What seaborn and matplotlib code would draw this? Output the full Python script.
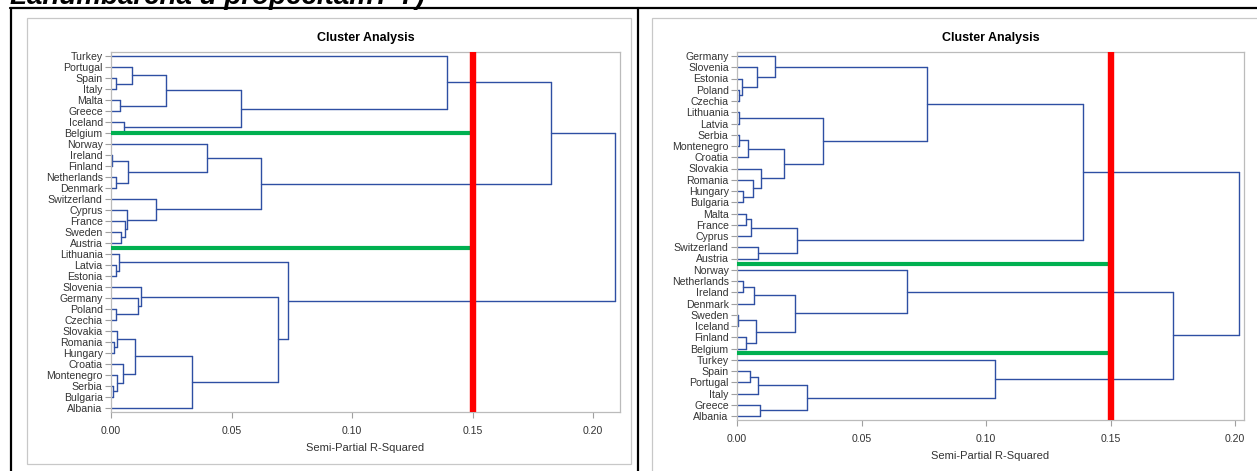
import numpy as np
import pandas as pd
import seaborn as sns
import matplotlib.pyplot as plt
from matplotlib.patches import Rectangle
from matplotlib.lines import Line2D

# leaf order (top to bottom) and merges: (member of cluster A, member of cluster B, semi-partial R2)
left_leaves = ["Turkey", "Portugal", "Spain", "Italy", "Malta", "Greece", "Iceland", "Belgium",
               "Norway", "Ireland", "Finland", "Netherlands", "Denmark", "Switzerland", "Cyprus",
               "France", "Sweden", "Austria", "Lithuania", "Latvia", "Estonia", "Slovenia",
               "Germany", "Poland", "Czechia", "Slovakia", "Romania", "Hungary", "Croatia",
               "Montenegro", "Serbia", "Bulgaria", "Albania"]
left_merges = [("Spain", "Italy", 0.0020), ("Portugal", "Spain", 0.0089),
               ("Malta", "Greece", 0.0037), ("Portugal", "Malta", 0.0230),
               ("Iceland", "Belgium", 0.0054), ("Portugal", "Iceland", 0.0540),
               ("Turkey", "Portugal", 0.1396),
               ("Ireland", "Finland", 0.0003), ("Netherlands", "Denmark", 0.0022),
               ("Ireland", "Netherlands", 0.0072), ("Norway", "Ireland", 0.0397),
               ("Sweden", "Austria", 0.0042), ("France", "Sweden", 0.0060),
               ("Cyprus", "France", 0.0068), ("Switzerland", "Cyprus", 0.0185),
               ("Norway", "Switzerland", 0.0621), ("Turkey", "Norway", 0.1826),
               ("Latvia", "Estonia", 0.0019), ("Lithuania", "Latvia", 0.0035),
               ("Poland", "Czechia", 0.0019), ("Germany", "Poland", 0.0112),
               ("Slovenia", "Germany", 0.0124), ("Romania", "Hungary", 0.0014),
               ("Slovakia", "Romania", 0.0025), ("Serbia", "Bulgaria", 0.0010),
               ("Montenegro", "Serbia", 0.0025), ("Croatia", "Montenegro", 0.0048),
               ("Slovakia", "Croatia", 0.0101), ("Slovakia", "Albania", 0.0335),
               ("Slovenia", "Slovakia", 0.0691), ("Lithuania", "Slovenia", 0.0736),
               ("Turkey", "Lithuania", 0.2093)]
left_cuts = [7.0, 17.5]

right_leaves = ["Germany", "Slovenia", "Estonia", "Poland", "Czechia", "Lithuania", "Latvia",
                "Serbia", "Montenegro", "Croatia", "Slovakia", "Romania", "Hungary", "Bulgaria",
                "Malta", "France", "Cyprus", "Switzerland", "Austria", "Norway", "Netherlands",
                "Ireland", "Denmark", "Sweden", "Iceland", "Finland", "Belgium", "Turkey",
                "Spain", "Portugal", "Italy", "Greece", "Albania"]
right_merges = [("Poland", "Czechia", 0.0009), ("Estonia", "Poland", 0.0020),
                ("Slovenia", "Estonia", 0.0082), ("Germany", "Slovenia", 0.0154),
                ("Lithuania", "Latvia", 0.0007), ("Serbia", "Montenegro", 0.0009),
                ("Serbia", "Croatia", 0.0044), ("Hungary", "Bulgaria", 0.0025),
                ("Romania", "Hungary", 0.0064), ("Slovakia", "Romania", 0.0098),
                ("Serbia", "Slovakia", 0.0189), ("Lithuania", "Serbia", 0.0344),
                ("Germany", "Lithuania", 0.0763),
                ("Malta", "France", 0.0037), ("Malta", "Cyprus", 0.0055),
                ("Switzerland", "Austria", 0.0086), ("Malta", "Switzerland", 0.0242),
                ("Germany", "Malta", 0.1388),
                ("Netherlands", "Ireland", 0.0025), ("Netherlands", "Denmark", 0.0070),
                ("Sweden", "Iceland", 0.0006), ("Finland", "Belgium", 0.0036),
                ("Sweden", "Finland", 0.0078), ("Netherlands", "Sweden", 0.0234),
                ("Norway", "Netherlands", 0.0683),
                ("Spain", "Portugal", 0.0052), ("Spain", "Italy", 0.0086),
                ("Greece", "Albania", 0.0094), ("Spain", "Greece", 0.0280),
                ("Turkey", "Spain", 0.1037), ("Norway", "Turkey", 0.1752),
                ("Germany", "Norway", 0.2017)]
right_cuts = [18.5, 26.4]

cut_height = 0.15
x_ticks = [0.00, 0.05, 0.10, 0.15, 0.20]

W, H = 1257, 471
line_blue = "#2E4FA3"
frame_gray = "#C8C8C8"
text_col = "#333333"


def dendro_segments(leaves, merges):
    # turn the merge list into line segments (height on x, leaf position on y)
    owner = {name: name for name in leaves}
    node = {name: (float(i), 0.0) for i, name in enumerate(leaves)}
    members = {name: [name] for name in leaves}
    rows = []
    for k, (a, b, h) in enumerate(merges):
        ca, cb = owner[a], owner[b]
        ya, ha = node[ca]
        yb, hb = node[cb]
        rows += [(3 * k, ha, ya), (3 * k, h, ya)]
        rows += [(3 * k + 1, hb, yb), (3 * k + 1, h, yb)]
        rows += [(3 * k + 2, h, ya), (3 * k + 2, h, yb)]
        new = "c%d" % k
        node[new] = ((ya + yb) / 2, h)
        members[new] = members.pop(ca) + members.pop(cb)
        for m in members[new]:
            owner[m] = new
    return pd.DataFrame(rows, columns=["seg", "height", "pos"])


def px_rect(x0, y0, x1, y1):
    # pixel box (from top-left) -> figure fraction rect
    return [x0 / W, 1 - y1 / H, (x1 - x0) / W, (y1 - y0) / H]


sns.set_style("white")
plt.rcParams["font.family"] = ["Liberation Sans", "DejaVu Sans"]

fig = plt.figure(figsize=(W / 100, H / 100), dpi=100)

# table borders and panel frames
fig.add_artist(Line2D([10 / W, 1], [1 - 8 / H, 1 - 8 / H], color="black", lw=1.6))
fig.add_artist(Line2D([11 / W, 11 / W], [0, 1 - 8 / H], color="black", lw=1.6))
fig.add_artist(Line2D([638 / W, 638 / W], [0, 1 - 8 / H], color="black", lw=1.6))
for x0, y0, x1, y1 in [(27, 18, 631, 464), (652, 18, 1262, 480)]:
    r = px_rect(x0, y0, x1, y1)
    fig.add_artist(Rectangle((r[0], r[1]), r[2], r[3], transform=fig.transFigure,
                             fill=False, edgecolor=frame_gray, lw=0.9))

fig.text(10 / W, 1 - 4 / H, "Lanumbarcha u propecitam? ?)", fontsize=20, fontweight="bold",
         fontstyle="italic", color="black", ha="left", va="baseline")

panels = [
    (left_leaves, left_merges, left_cuts, px_rect(111, 52, 620, 412), 0.2112, 11.0),
    (right_leaves, right_merges, right_cuts, px_rect(737, 52, 1244, 420), 0.2036, 11.25),
]

for leaves, merges, cuts, rect, xmax, step in panels:
    ax = fig.add_axes(rect)
    seg = dendro_segments(leaves, merges)
    sns.lineplot(data=seg, x="height", y="pos", units="seg", estimator=None, sort=False,
                 color=line_blue, lw=1.0, ax=ax, legend=False)
    ax.hlines(cuts, 0, cut_height - 0.0008, color="#00B050", lw=3.0, zorder=4)
    ax.axvline(cut_height, color="#FF0000", lw=4.6, zorder=5)

    pad = 4 / step
    ax.set_ylim(len(leaves) - 1 + pad, -pad)
    ax.set_xlim(0, xmax)
    ax.set_yticks(range(len(leaves)))
    ax.set_yticklabels(leaves)
    ax.set_xticks(x_ticks)
    ax.set_xticklabels(["%.2f" % t for t in x_ticks])
    ax.tick_params(axis="both", length=4, width=0.8, color="#A0A0A0", labelsize=7.6,
                   labelcolor=text_col, pad=2, left=True, bottom=True)
    ax.tick_params(axis="x", pad=6)
    for sp in ax.spines.values():
        sp.set_color("#BBBBBB")
        sp.set_linewidth(0.9)
    ax.set_ylabel("")
    ax.set_xlabel("Semi-Partial R-Squared", fontsize=8, color=text_col, labelpad=5)
    ax.set_title("Cluster Analysis", fontsize=9, fontweight="bold", color="black", pad=8)

fig.savefig("out.png", dpi=100)
